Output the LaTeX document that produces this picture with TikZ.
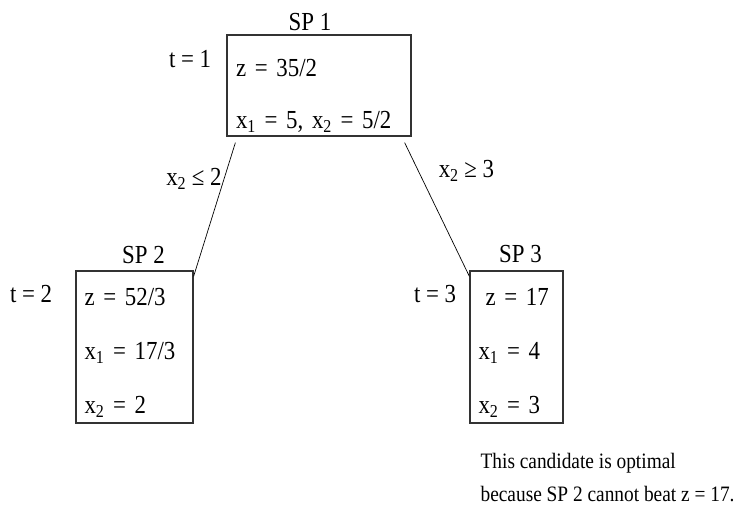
\documentclass[tikz,border=0pt]{standalone}
\usepackage{fontspec}
\setmainfont{Liberation Serif}[FakeStretch=0.88]
\usetikzlibrary{positioning,calc}

\begin{document}
\begin{tikzpicture}[
    x=1pt, y=-1pt,
    spbox/.style={rectangle, draw=black!80, line width=1.2pt, inner xsep=8pt, inner ysep=0pt, align=left, font=\fontsize{26}{54}\selectfont},
    lbl/.style={inner sep=0pt, font=\fontsize{26}{30}\selectfont},
    branch/.style={draw, line width=0.7pt}
]
    \useasboundingbox (0,0) rectangle (743,506);

    % Subproblems
    \node[spbox, font=\fontsize{26}{52}\selectfont, text width=166pt, minimum width=184pt, minimum height=101pt] (sp1) at (319,85.5) {\rule{0pt}{38pt}z = 35/2\\x\textsubscript{1} = 5, x\textsubscript{2} = 5/2};
    \node[spbox, text width=100pt, minimum width=117pt, minimum height=152pt] (sp2) at (134.5,347) {\rule{0pt}{29pt}z = 52/3\\x\textsubscript{1} = 17/3\\x\textsubscript{2} = 2};
    \node[spbox, text width=76pt, minimum width=93pt, minimum height=152pt] (sp3) at (516.5,347) {\rule{0pt}{29pt}\hspace*{7pt}z = 17\\x\textsubscript{1} = 4\\x\textsubscript{2} = 3};

    % Titles
    \node[lbl, above=3pt of sp1, xshift=-9pt] (sp1name) {SP 1};
    \node[lbl, above=6pt of sp2, xshift=9pt] (sp2name) {SP 2};
    \node[lbl, above=7pt of sp3, xshift=4pt] (sp3name) {SP 3};

    % Iteration counters
    \node[lbl, left=15pt of sp1.north west, anchor=base east, yshift=-33pt] (t1) {t = 1};
    \node[lbl, left=23pt of sp2.north west, anchor=base east, yshift=-32pt] (t2) {t = 2};
    \node[lbl, left=13pt of sp3.north west, anchor=base east, yshift=-32pt] (t3) {t = 3};

    % Branches
    \coordinate (lfrom) at ([xshift=9pt,yshift=-6pt]sp1.south west);
    \coordinate (rfrom) at ([xshift=-7pt,yshift=-6pt]sp1.south east);
    \coordinate (lto) at ([yshift=-6pt]sp2.north east);
    \coordinate (rto) at ([yshift=-6pt]sp3.north west);
    \draw[branch] (lfrom) -- (lto) node[lbl, pos=0.32, anchor=base east] (lcut) {x\textsubscript{2} ≤ 2};
    \draw[branch] (rfrom) -- (rto) node[lbl, pos=0.26, anchor=base west, xshift=17pt] (rcut) {x\textsubscript{2} ≥ 3};

    % Conclusion
    \node[lbl, font=\fontsize{22}{33}\selectfont, align=left, below=29pt of sp3.south west, anchor=north west, xshift=11pt] (note) {This candidate is optimal\\because SP 2 cannot beat z = 17.};
\end{tikzpicture}
\end{document}
